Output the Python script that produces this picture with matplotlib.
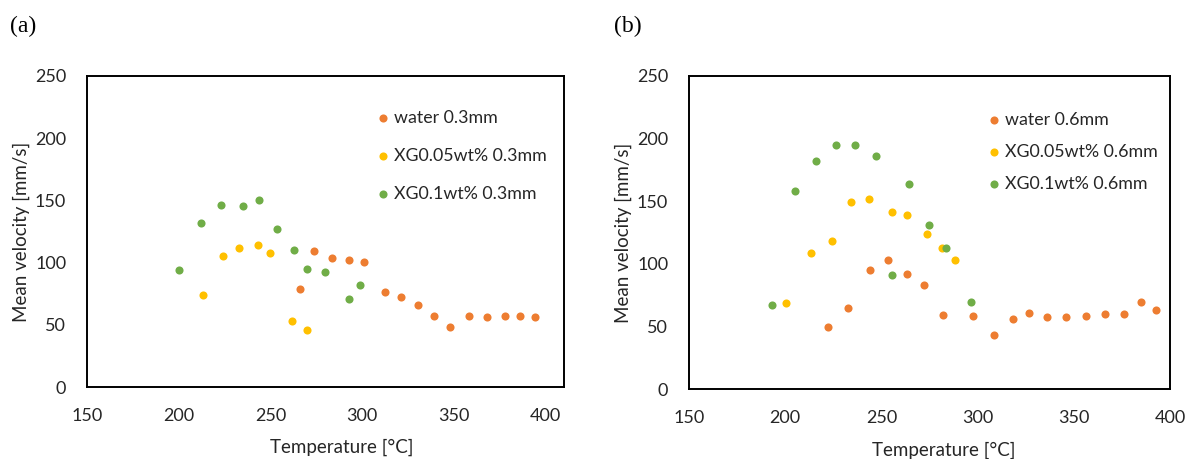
import matplotlib.pyplot as plt

# ----------------------------
# Data
# ----------------------------

# Panel (a): 0.3 mm
water_03_t = [265.9, 274.0, 283.7, 292.9, 301.2, 312.3, 321.0, 330.2,
              339.1, 348.0, 358.1, 368.0, 378.0, 385.9, 394.0]
water_03_v = [79.0, 109.3, 104.0, 102.1, 100.5, 76.4, 72.1, 66.2,
              57.3, 48.5, 57.3, 56.3, 56.8, 57.3, 56.3]

xg005_03_t = [213.1, 224.0, 233.1, 243.2, 249.8, 262.0, 270.0]
xg005_03_v = [73.7, 105.0, 111.5, 113.9, 107.4, 53.3, 46.1]

xg01_03_t = [200.0, 211.9, 223.2, 235.1, 244.0, 253.8, 263.1, 269.8,
             279.8, 293.0, 299.0]
xg01_03_v = [94.1, 131.6, 146.3, 145.2, 150.6, 127.0, 110.1, 95.1,
             92.2, 70.5, 82.3]

# Panel (b): 0.6 mm
water_06_t = [222.4, 232.4, 244.1, 253.5, 263.5, 272.4, 282.2, 297.8,
              308.6, 318.6, 326.7, 336.1, 346.1, 356.1, 366.1, 375.9,
              384.9, 392.9]
water_06_v = [49.4, 64.5, 95.3, 102.7, 91.6, 83.3, 58.9, 58.1,
              43.0, 56.0, 61.0, 57.6, 57.6, 58.1, 60.0, 60.0,
              69.3, 62.9]

xg005_06_t = [200.4, 213.5, 224.3, 234.3, 243.5, 255.5, 263.5, 273.7,
              281.4, 288.4]
xg005_06_v = [68.5, 108.3, 118.1, 149.2, 152.1, 141.5, 139.1, 124.0,
              112.8, 103.0]

xg01_06_t = [193.1, 205.3, 216.1, 226.3, 236.5, 247.3, 264.3, 274.7,
             283.5, 255.5, 296.7]
xg01_06_v = [66.9, 157.9, 182.3, 194.5, 195.1, 185.8, 163.5, 130.6,
             112.3, 91.0, 69.5]

x_ticks = [150, 200, 250, 300, 350, 400]
y_ticks = [0, 50, 100, 150, 200, 250]

ORANGE = "#ED7D31"
YELLOW = "#FFC000"
GREEN = "#70AD47"
TEXT = "#262626"

plt.rcParams["font.family"] = ["Lato", "DejaVu Sans"]

W, H = 1189, 459
fig = plt.figure(figsize=(W / 100, H / 100), dpi=100)


def px_axes(left, right, top, bottom):
    return fig.add_axes([left / W, 1 - bottom / H,
                         (right - left) / W, (bottom - top) / H])


def style(ax, xmax):
    ax.set_xlim(150, xmax)
    ax.set_ylim(0, 250)
    ax.set_xticks(x_ticks)
    ax.set_yticks(y_ticks)
    ax.tick_params(length=0, labelsize=13, colors=TEXT)
    ax.tick_params(axis="x", pad=15)
    ax.tick_params(axis="y", pad=15)
    for sp in ax.spines.values():
        sp.set_linewidth(1.4)
        sp.set_color("black")


panels = [
    dict(box=(87, 564, 76, 387), xmax=410, tag="(a)", tag_x=10,
         ylab_x=21, xlab=(342, 447), leg=(374, 110), spacing=1.24,
         series=[(water_03_t, water_03_v, ORANGE, "water 0.3mm"),
                 (xg005_03_t, xg005_03_v, YELLOW, "XG0.05wt% 0.3mm"),
                 (xg01_03_t, xg01_03_v, GREEN, "XG0.1wt% 0.3mm")]),
    dict(box=(689, 1170, 76, 389), xmax=400, tag="(b)", tag_x=614,
         ylab_x=623, xlab=(944, 450), leg=(985, 112), spacing=0.9,
         series=[(water_06_t, water_06_v, ORANGE, "water 0.6mm"),
                 (xg005_06_t, xg005_06_v, YELLOW, "XG0.05wt% 0.6mm"),
                 (xg01_06_t, xg01_06_v, GREEN, "XG0.1wt% 0.6mm")]),
]

for p in panels:
    left, right, top, bottom = p["box"]
    ax = px_axes(left, right, top, bottom)
    for t, v, c, lab in p["series"]:
        ax.scatter(t, v, s=34, color=c, linewidths=0, label=lab)
    style(ax, p["xmax"])

    lx, ly = p["leg"]
    ax.legend(loc="upper left", bbox_to_anchor=(lx / W, 1 - ly / H),
              bbox_transform=fig.transFigure, frameon=False, fontsize=12.8,
              handletextpad=0.1, handlelength=1.0, borderpad=0,
              borderaxespad=0, labelspacing=p["spacing"],
              labelcolor=TEXT)

    cy = (top + bottom) / 2
    fig.text(p["ylab_x"] / W, 1 - cy / H, "Mean velocity [mm/s]",
             rotation=90, ha="center", va="center", fontsize=13.5,
             color=TEXT)
    fig.text(p["xlab"][0] / W, 1 - p["xlab"][1] / H, "Temperature [°C]",
             ha="center", va="center", fontsize=13.5, color=TEXT)
    fig.text(p["tag_x"] / W, 1 - 26 / H, p["tag"], ha="left", va="center",
             fontsize=17, family="Liberation Serif")

fig.savefig("out.png", dpi=100)
